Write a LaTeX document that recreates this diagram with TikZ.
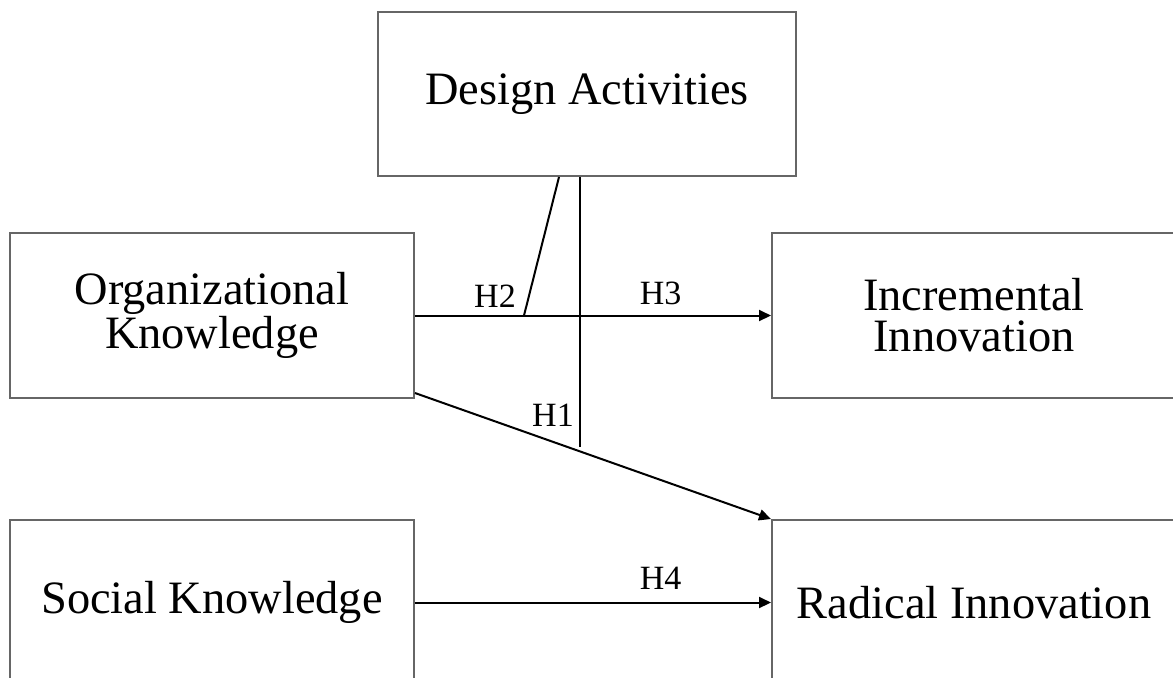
\documentclass[tikz,border=0pt]{standalone}
\usepackage{fontspec}
\setmainfont{Liberation Serif}
\usetikzlibrary{positioning,arrows.meta}
\definecolor{boxgray}{RGB}{102,102,102}
\tikzset{
  b/.style={rectangle,draw=boxgray,line width=1pt,minimum width=202pt,minimum height=82.5pt,align=center,inner sep=0pt,font=\fontsize{23.2}{20.5}\selectfont},
  arr/.style={-{Triangle[length=6pt,width=5.5pt]},line width=1pt},
  lnk/.style={line width=1pt},
  lab/.style={font=\fontsize{17}{17}\selectfont,inner sep=0pt},
}
\begin{document}
\begin{tikzpicture}[x=0.5pt,y=-0.5pt]
  \useasboundingbox (0,0) rectangle (1173,677);
  \clip (0,0) rectangle (1173,677);
  \node[b] (org) at (212,315.5) {Organizational\\Knowledge};
  \node[b,below=60pt of org] (soc) {Social Knowledge};
  \node[b,right=178pt of org] (inc) {Incremental\\Innovation};
  \node[b,below=60pt of inc] (rad) {Radical Innovation};
  \node[b,minimum width=209pt,minimum height=82pt] (des) at (587,94) {Design Activities};
  % moderation lines from the design box
  \coordinate (j2) at ([xshift=54.5pt]org.east);
  \coordinate (v1) at (580,447);
  \draw[lnk] ([xshift=-14pt]des.south) -- (j2);
  \draw[lnk] (des.south -| v1) -- (v1);
  \draw[arr] (org.east) -- node[lab,pos=0.69,above=5pt] (h3) {H3} (inc.west);
  \draw[arr] ([yshift=3pt]org.south east) -- (rad.north west);
  \draw[arr] (soc.east) -- node[lab,pos=0.69,above=6pt] (h4) {H4} (rad.west);
  \node[lab,anchor=base] (h2) at (495,307) {H2};
  \node[lab,anchor=base] (h1) at (553,426) {H1};
\end{tikzpicture}
\end{document}
